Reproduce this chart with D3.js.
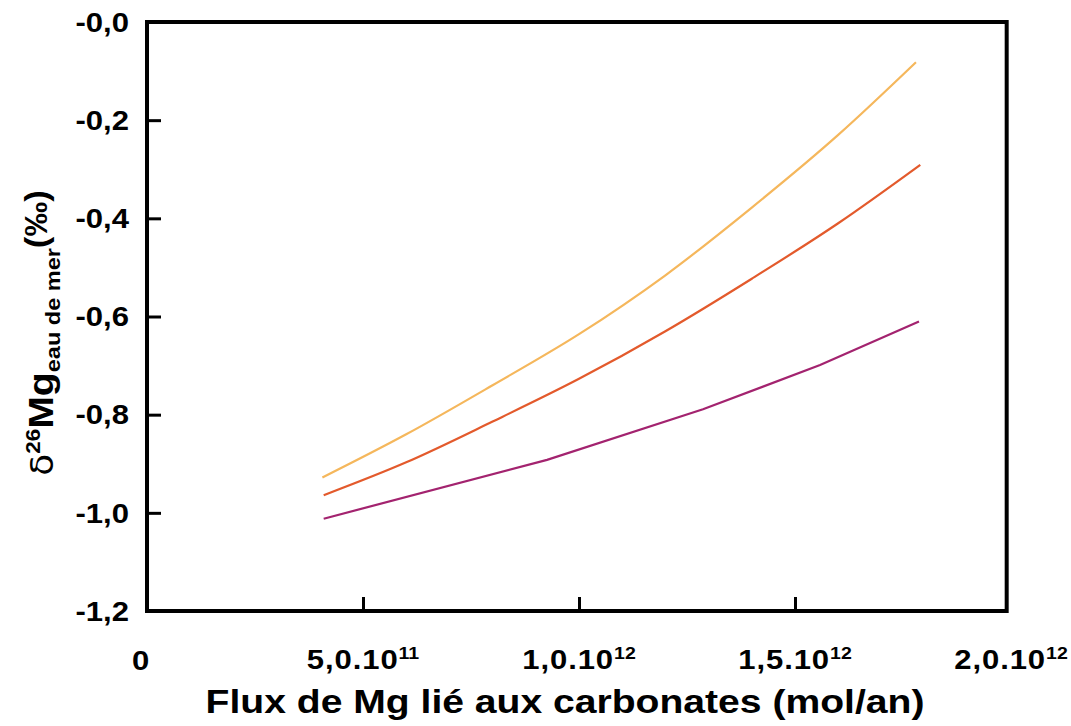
<!DOCTYPE html>
<html>
<head>
<meta charset="utf-8">
<script src="https://cdn.jsdelivr.net/npm/d3@7"></script>
<style>
  html, body { margin: 0; padding: 0; background: #fff; }
  svg { display: block; }
  text { font-family: "Liberation Sans", Arial, sans-serif; font-weight: bold; fill: #000; }
</style>
</head>
<body>
<svg id="chart" width="1071" height="726"></svg>
<script>
// ---- Data ----
const xTickValues = [5e11, 1e12, 1.5e12];
const xLabelValues = [0, 5e11, 1e12, 1.5e12, 2e12];
const xLabelMantissa = ["0", "5,0.10", "1,0.10", "1,5.10", "2,0.10"];
const xLabelExponent = ["", "11", "12", "12", "12"];
const yTickValues = [-1.0, -0.8, -0.6, -0.4, -0.2];
const yLabelValues = [-1.2, -1.0, -0.8, -0.6, -0.4, -0.2, 0];
const yLabelTexts = ["-1,2", "-1,0", "-0,8", "-0,6", "-0,4", "-0,2", "-0,0"];

const yellowX = [4.06e11, 6e11, 8e11, 1.0e12, 1.2e12, 1.4e12, 1.6e12, 1.78e12];
const yellowY = [-0.928, -0.840, -0.740, -0.636, -0.516, -0.378, -0.230, -0.082];
const orangeX = [4.09e11, 6e11, 8e11, 1.0e12, 1.2e12, 1.4e12, 1.6e12, 1.79e12];
const orangeY = [-0.964, -0.897, -0.814, -0.727, -0.630, -0.523, -0.410, -0.291];
const purpleX = [4.09e11, 9.26e11, 1.287e12, 1.558e12, 1.787e12];
const purpleY = [-1.012, -0.892, -0.789, -0.699, -0.610];

const xDomainMax = 2e12;
const xFrameMax = 1.99e12;

// ---- Layout ----
const svg = d3.select("#chart");
const x = d3.scaleLinear().domain([0, xDomainMax]).range([147, 1011]);
const y = d3.scaleLinear().domain([-1.2, 0]).range([611, 22]);
const SX = 1.15; // horizontal stretch of the lettering

// Series
const series = [
  {xs: yellowX, ys: yellowY, color: "#f5b75c", curve: d3.curveMonotoneX},
  {xs: orangeX, ys: orangeY, color: "#e35a2c", curve: d3.curveMonotoneX},
  {xs: purpleX, ys: purpleY, color: "#a3236f", curve: d3.curveLinear}
];
series.forEach(s => {
  const pts = s.xs.map((v, i) => [v, s.ys[i]]);
  svg.append("path")
    .datum(pts)
    .attr("fill", "none")
    .attr("stroke", s.color)
    .attr("stroke-width", 2.2)
    .attr("d", d3.line().x(d => x(d[0])).y(d => y(d[1])).curve(s.curve));
});

// Inward ticks via axes
const xAxis = d3.axisBottom(x).tickValues(xTickValues).tickSize(-14).tickFormat("");
const gx = svg.append("g").attr("transform", `translate(0,${y(-1.2)})`).call(xAxis);
gx.select(".domain").remove();
gx.selectAll(".tick line").attr("stroke", "#000").attr("stroke-width", 3);

const yAxis = d3.axisLeft(y).tickValues(yTickValues).tickSize(-14).tickFormat("");
const gy = svg.append("g").attr("transform", `translate(${x(0)},0)`).call(yAxis);
gy.select(".domain").remove();
gy.selectAll(".tick line").attr("stroke", "#000").attr("stroke-width", 3);

// Frame
svg.append("rect")
  .attr("x", x(0)).attr("y", y(0))
  .attr("width", x(xFrameMax) - x(0))
  .attr("height", y(-1.2) - y(0))
  .attr("fill", "none").attr("stroke", "#000").attr("stroke-width", 4);

// Y labels
svg.append("g").selectAll("text").data(yLabelValues).join("text")
  .attr("transform", d => `translate(129,${y(d)}) scale(${SX},1)`)
  .attr("dy", "0.36em")
  .attr("text-anchor", "end")
  .attr("font-size", 27)
  .text((d, i) => yLabelTexts[i]);

// X labels
const xl = svg.append("g").selectAll("text").data(xLabelValues).join("text")
  .attr("transform", (d, i) => `translate(${i === 0 ? x(d) - 6 : x(d)},${i === 0 ? 670 : 669}) scale(${SX},1)`)
  .attr("text-anchor", "middle")
  .attr("font-size", 27)
  .attr("letter-spacing", 0.8);
xl.append("tspan").text((d, i) => xLabelMantissa[i]);
xl.append("tspan").attr("font-size", 17).attr("dy", -10).attr("letter-spacing", 0)
  .text((d, i) => xLabelExponent[i]);

// X title
svg.append("text")
  .attr("transform", `translate(565,713) scale(${SX},1)`)
  .attr("text-anchor", "middle")
  .attr("font-size", 34)
  .text("Flux de Mg lié aux carbonates (mol/an)");

// Y title
const yt = svg.append("text")
  .attr("transform", "translate(53,333) rotate(-90) scale(1.12,1)")
  .attr("text-anchor", "middle")
  .attr("font-size", 35);
yt.append("tspan").attr("font-weight", "normal").attr("font-family", "DejaVu Sans").attr("font-size", 32).text("δ");
yt.append("tspan").attr("font-size", 20).attr("dy", -13).text("26");
yt.append("tspan").attr("dy", 13).text("Mg");
yt.append("tspan").attr("font-size", 21).attr("dy", 7).text("eau de mer");
yt.append("tspan").attr("font-size", 31).attr("dy", -13).text("(‰)");
</script>
</body>
</html>
